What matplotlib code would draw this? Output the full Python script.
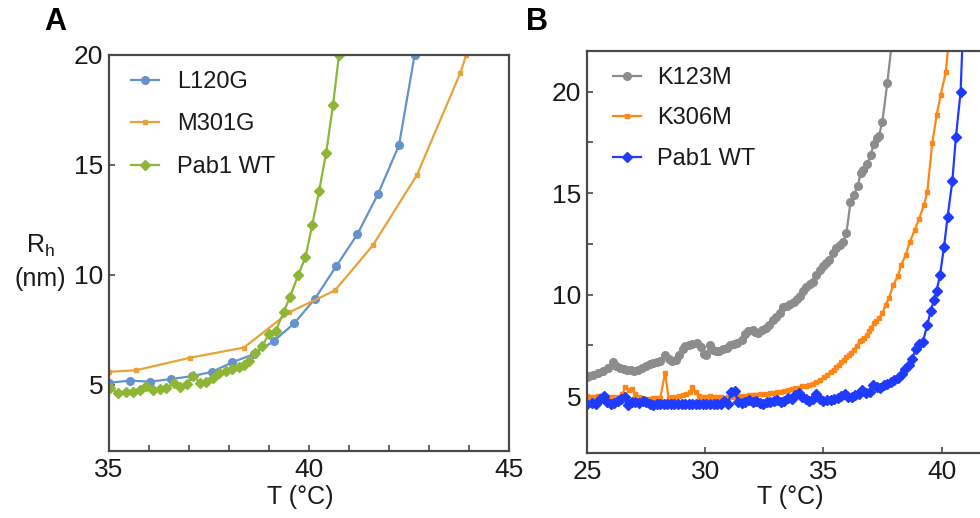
import matplotlib
matplotlib.use("Agg")
import matplotlib.pyplot as plt
from matplotlib.ticker import FixedLocator

plt.rcParams['font.family'] = ['Liberation Sans', 'DejaVu Sans']
plt.rcParams['mathtext.fontset'] = 'custom'
plt.rcParams['mathtext.rm'] = 'Liberation Sans'
plt.rcParams['mathtext.it'] = 'Liberation Sans:italic'

# ---------------- Panel A: hydrodynamic radius vs temperature ----------------
l120g_t = [35.0, 35.53, 36.03, 36.54, 37.08, 37.58, 38.08, 38.62, 39.12, 39.63,
           40.14, 40.68, 41.21, 41.73, 42.25, 42.64]
l120g_r = [5.1, 5.2, 5.15, 5.27, 5.4, 5.6, 6.03, 6.4, 7.0, 7.8,
           8.9, 10.4, 11.85, 13.7, 15.9, 20.0]

m301g_t = [35.0, 35.68, 37.03, 38.37, 39.5, 40.65, 41.6, 42.7, 43.78, 43.93]
m301g_r = [5.6, 5.67, 6.24, 6.7, 8.3, 9.3, 11.36, 14.55, 19.17, 20.0]

wtA_t = [35.02, 35.23, 35.42, 35.6, 35.77, 35.93, 36.1, 36.27, 36.43, 36.62,
         36.77, 36.95, 37.1, 37.28, 37.43, 37.6, 37.75, 37.92, 38.08, 38.25,
         38.37, 38.5, 38.64, 38.83, 39.0, 39.17, 39.37, 39.53, 39.73, 39.91,
         40.08, 40.25, 40.43, 40.6, 40.75]
wtA_r = [4.85, 4.65, 4.7, 4.7, 4.77, 4.95, 4.77, 4.8, 4.85, 5.08,
         4.92, 5.03, 5.41, 5.11, 5.15, 5.3, 5.53, 5.65, 5.71, 5.8,
         5.9, 6.1, 6.44, 6.77, 7.32, 7.47, 8.33, 9.02, 10.0, 10.8,
         12.27, 13.8, 15.56, 17.73, 20.0]

# ---------------- Panel B ----------------
k123m_t = [25.0, 25.08, 25.25, 25.46, 25.68, 25.89, 26.1, 26.24, 26.4, 26.55,
           26.7, 26.87, 27.0, 27.15, 27.33, 27.5, 27.65, 27.8, 27.95, 28.1,
           28.3, 28.45, 28.6, 28.75, 28.91, 29.05, 29.16, 29.3, 29.45, 29.64,
           29.8, 29.95, 30.05, 30.2, 30.32, 30.45, 30.6, 30.75, 30.9, 31.05,
           31.2, 31.35, 31.55, 31.7, 31.82, 32.0, 32.12, 32.25, 32.4, 32.55,
           32.7, 32.85, 33.0, 33.15, 33.3, 33.45, 33.6, 33.75, 33.9, 34.0,
           34.12, 34.27, 34.42, 34.56, 34.7, 34.87, 35.0, 35.1, 35.25, 35.4,
           35.55, 35.68, 35.83, 35.97, 36.14, 36.28, 36.45, 36.58, 36.68, 36.85,
           36.99, 37.13, 37.25, 37.34, 37.49, 37.7, 37.9]
k123m_r = [5.95, 5.98, 6.06, 6.14, 6.23, 6.39, 6.7, 6.5, 6.38, 6.32,
           6.3, 6.3, 6.25, 6.28, 6.39, 6.5, 6.6, 6.63, 6.68, 6.75,
           7.02, 6.85, 6.72, 6.8, 7.04, 7.3, 7.48, 7.5, 7.55, 7.61,
           7.4, 7.1, 7.05, 7.5, 7.25, 7.2, 7.21, 7.3, 7.38, 7.5,
           7.55, 7.6, 7.78, 8.05, 8.2, 8.27, 8.15, 8.1, 8.28, 8.38,
           8.5, 8.76, 8.9, 9.1, 9.41, 9.46, 9.55, 9.66, 9.8, 9.92,
           10.2, 10.38, 10.5, 10.64, 10.95, 11.2, 11.4, 11.55, 11.72, 12.05,
           12.3, 12.45, 12.61, 13.02, 14.54, 14.9, 15.36, 16.0, 16.13, 16.45,
           16.86, 17.44, 17.7, 17.81, 18.5, 20.43, 22.5]

k306m_t = [25.0, 25.15, 25.3, 25.45, 25.6, 25.75, 25.9, 26.05, 26.2, 26.35,
           26.5, 26.62, 26.78, 26.92, 27.05, 27.2, 27.35, 27.5, 27.65, 27.8,
           27.95, 28.1, 28.3, 28.45, 28.6, 28.75, 28.9, 29.05, 29.2, 29.35,
           29.45, 29.6, 29.75, 29.9, 30.05, 30.2, 30.35, 30.5, 30.65, 30.8,
           30.95, 31.1, 31.25, 31.4, 31.55, 31.7, 31.85, 32.0, 32.15, 32.3,
           32.45, 32.6, 32.75, 32.9, 33.05, 33.2, 33.35, 33.5, 33.65, 33.8,
           33.95, 34.1, 34.25, 34.4, 34.55, 34.7, 34.87, 35.02, 35.16, 35.3,
           35.44, 35.55, 35.65, 35.76, 35.86, 35.97, 36.07, 36.18, 36.28, 36.41,
           36.54, 36.63, 36.72, 36.83, 36.93, 37.03, 37.13, 37.24, 37.34, 37.49,
           37.63, 37.77, 37.95, 38.15, 38.29, 38.47, 38.66, 38.86, 39.04, 39.25,
           39.39, 39.6, 39.79, 39.96, 40.17, 40.3]
k306m_r = [5.0, 4.95, 4.95, 5.0, 5.02, 4.98, 4.95, 4.97, 4.95, 4.95,
           5.1, 5.45, 5.3, 5.35, 5.1, 4.98, 4.92, 4.88, 4.87, 4.9,
           4.92, 4.92, 6.15, 4.92, 4.95, 4.95, 5.0, 5.05, 5.1, 5.2,
           5.46, 5.2, 5.0, 4.97, 4.95, 5.0, 4.97, 4.95, 4.95, 4.93,
           4.95, 4.97, 4.97, 5.0, 5.0, 5.02, 5.05, 5.07, 5.07, 5.1,
           5.12, 5.13, 5.15, 5.17, 5.2, 5.22, 5.25, 5.3, 5.33, 5.38,
           5.42, 5.48, 5.52, 5.57, 5.62, 5.68, 5.82, 5.95, 6.06, 6.18,
           6.31, 6.42, 6.55, 6.68, 6.8, 6.92, 7.04, 7.15, 7.29, 7.48,
           7.7, 7.78, 7.86, 8.02, 8.19, 8.38, 8.59, 8.72, 8.84, 9.09,
           9.5, 9.85, 10.46, 10.93, 11.47, 11.93, 12.61, 13.19, 13.73, 14.41,
           15.06, 17.47, 18.86, 19.84, 20.95, 22.5]

wtB_t = [25.0, 25.2, 25.4, 25.55, 25.7, 25.85, 26.0, 26.15, 26.3, 26.45,
         26.6, 26.75, 26.9, 27.05, 27.2, 27.35, 27.5, 27.65, 27.8, 27.95,
         28.1, 28.25, 28.4, 28.55, 28.7, 28.85, 29.0, 29.15, 29.3, 29.45,
         29.6, 29.75, 29.9, 30.05, 30.2, 30.35, 30.5, 30.65, 30.8, 30.95,
         31.1, 31.25, 31.4, 31.55, 31.7, 31.85, 32.0, 32.15, 32.3, 32.45,
         32.6, 32.75, 32.9, 33.05, 33.2, 33.35, 33.5, 33.65, 33.8, 33.95,
         34.1, 34.25, 34.4, 34.55, 34.7, 34.85, 35.0, 35.15, 35.3, 35.45,
         35.6, 35.75, 35.9, 36.05, 36.2, 36.35, 36.5, 36.65, 36.8, 36.95,
         37.1, 37.25, 37.4, 37.55, 37.7, 37.85, 38.0, 38.15, 38.3, 38.45,
         38.6, 38.75, 38.9, 39.05, 39.2, 39.39, 39.53, 39.67, 39.78, 39.93,
         40.1, 40.25, 40.45, 40.6, 40.8, 40.88]
wtB_r = [4.62, 4.65, 4.6, 4.85, 5.0, 4.7, 4.62, 4.65, 4.75, 4.85,
         4.95, 4.55, 4.7, 4.72, 4.65, 4.75, 4.7, 4.6, 4.58, 4.6,
         4.6, 4.6, 4.6, 4.6, 4.6, 4.6, 4.6, 4.6, 4.6, 4.6,
         4.6, 4.6, 4.6, 4.6, 4.6, 4.62, 4.6, 4.62, 4.75, 4.6,
         5.2, 5.25, 4.7, 4.65, 4.72, 4.8, 4.7, 4.75, 4.65, 4.62,
         4.7, 4.72, 4.78, 4.8, 4.7, 4.75, 4.92, 4.85, 5.05, 5.15,
         4.95, 4.85, 4.78, 4.85, 5.1, 4.85, 4.78, 4.82, 4.8, 4.85,
         4.9, 5.0, 5.1, 4.95, 4.95, 5.05, 5.1, 5.3, 5.15, 5.2,
         5.55, 5.45, 5.4, 5.55, 5.62, 5.72, 5.8, 5.9, 6.08, 6.35,
         6.55, 6.85, 7.3, 7.55, 7.65, 8.51, 9.17, 9.74, 10.16, 10.98,
         12.37, 13.84, 15.6, 17.76, 20.0, 22.5]

tick_fs = 19
frame_col = '#4a4a4a'
text_col = '#1a1a1a'

fig = plt.figure(figsize=(9.8, 5.18), dpi=100)
axA = fig.add_axes([109 / 980, 67 / 518, 400 / 980, 396 / 518])
axB = fig.add_axes([587 / 980, 65 / 518, 402 / 980, 402 / 518])

# Panel A curves
axA.plot(l120g_t, l120g_r, color='#6592CC', lw=1.6, marker='o', ms=5.5, label='L120G')
axA.plot(m301g_t, m301g_r, color='#E8A23A', lw=1.6, marker='s', ms=3.2, label='M301G')
axA.plot(wtA_t, wtA_r, color='#8DB536', lw=1.6, marker='D', ms=4.6, label='Pab1 WT')
axA.set_xlim(35, 45)
axA.set_ylim(2, 20)
axA.xaxis.set_major_locator(FixedLocator([35, 40, 45]))
axA.xaxis.set_minor_locator(FixedLocator([36, 37, 38, 39, 41, 42, 43, 44]))
axA.yaxis.set_major_locator(FixedLocator([5, 10, 15, 20]))

# Panel B curves
axB.plot(k123m_t, k123m_r, color='#8C8C8C', lw=1.6, marker='o', ms=5.5, label='K123M')
axB.plot(k306m_t, k306m_r, color='#FF8514', lw=1.6, marker='s', ms=3.5, label='K306M')
axB.plot(wtB_t, wtB_r, color='#1F3BFF', lw=1.6, marker='D', ms=5.2, label='Pab1 WT')
axB.set_xlim(25, 42)
axB.set_ylim(2.2, 22)
axB.xaxis.set_major_locator(FixedLocator([25, 30, 35, 40]))
axB.yaxis.set_major_locator(FixedLocator([5, 10, 15, 20]))
axB.yaxis.set_minor_locator(FixedLocator([7.5, 12.5, 17.5]))

for ax in (axA, axB):
    for sp in ax.spines.values():
        sp.set_color(frame_col)
        sp.set_linewidth(1.6)
    ax.tick_params(which='both', direction='in', length=4, width=1.2,
                   color=frame_col, labelsize=tick_fs, labelcolor=text_col,
                   top=False, right=False)
    ax.tick_params(axis='x', which='both', pad=5)
    ax.tick_params(axis='y', which='both', pad=4)

legA = axA.legend(loc='upper left', bbox_to_anchor=(0.055, 0.96), frameon=False,
                  fontsize=17, handlelength=1.2, handletextpad=0.75, labelspacing=0.87,
                  borderaxespad=0, borderpad=0)
legB = axB.legend(loc='upper left', bbox_to_anchor=(0.065, 0.96), frameon=False,
                  fontsize=17, handlelength=1.2, handletextpad=0.65, labelspacing=0.78,
                  borderaxespad=0, borderpad=0)
for leg in (legA, legB):
    for txt in leg.get_texts():
        txt.set_color(text_col)

# Axis titles and panel letters
fig.text(300 / 980, 1 - 497 / 518, 'T (°C)', ha='center', va='center', fontsize=18, color=text_col)
fig.text(790 / 980, 1 - 497 / 518, 'T (°C)', ha='center', va='center', fontsize=18, color=text_col)
fig.text(40 / 980, 1 - 246 / 518, r'R$_\mathrm{h}$', ha='center', va='center', fontsize=18, color=text_col)
fig.text(40 / 980, 1 - 279 / 518, '(nm)', ha='center', va='center', fontsize=18, color=text_col)
fig.text(55 / 980, 1 - 22 / 518, 'A', ha='center', va='center', fontsize=22, fontweight='bold')
fig.text(537 / 980, 1 - 22 / 518, 'B', ha='center', va='center', fontsize=22, fontweight='bold')

fig.savefig('out.png', dpi=100)
